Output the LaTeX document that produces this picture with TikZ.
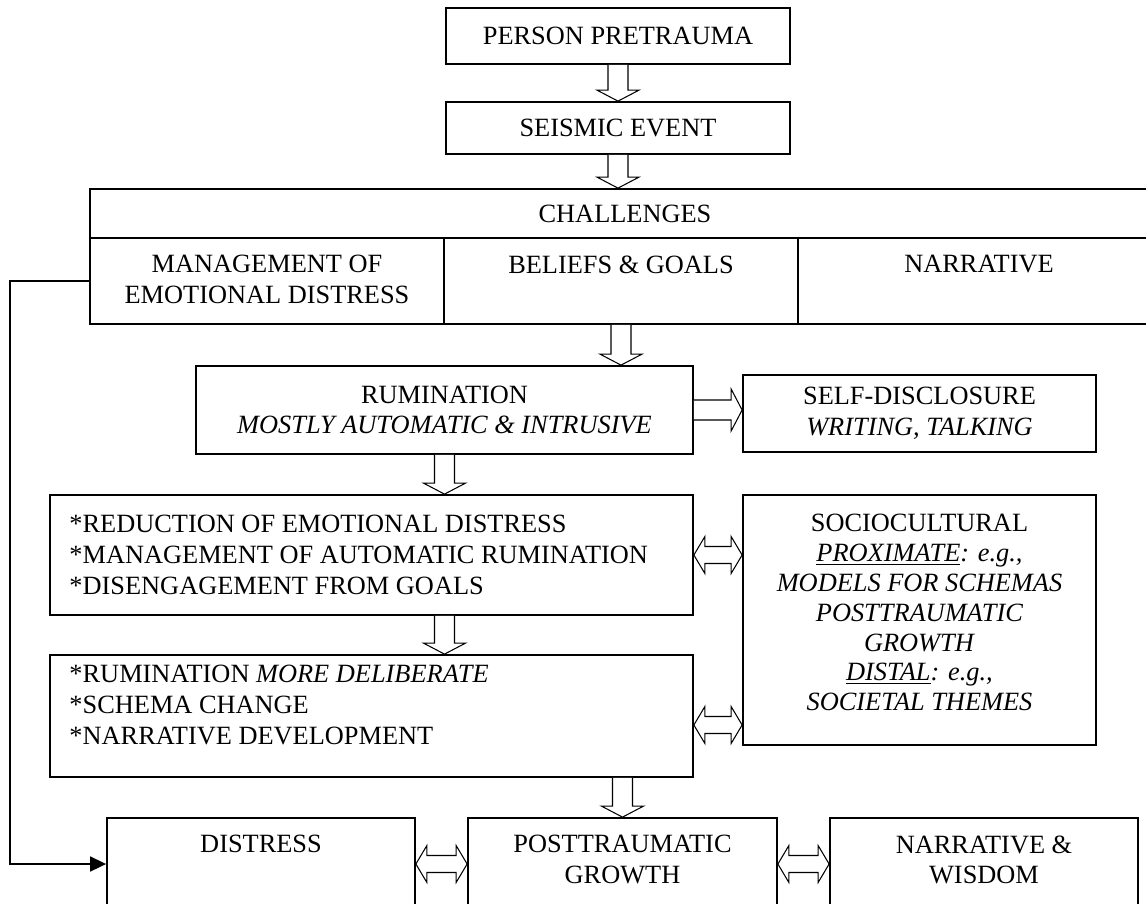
\documentclass[tikz,border=0pt]{standalone}
\usepackage{fontspec}
\setmainfont{Liberation Serif}
\usetikzlibrary{arrows.meta,calc}

\newcommand{\shaftw}{0.2cm}
\newcommand{\headw}{0.42cm}
\newcommand{\headl}{0.22cm}
\newcommand{\hollowdown}[2]{\draw[hollow] let \p1=(#1), \p2=(#2) in
  (\x1-\shaftw,\y1) -- (\x1-\shaftw,\y2+\headl) -- (\x1-\headw,\y2+\headl) -- (\x1,\y2)
  -- (\x1+\headw,\y2+\headl) -- (\x1+\shaftw,\y2+\headl) -- (\x1+\shaftw,\y1);}
\newcommand{\hollowright}[2]{\draw[hollow] let \p1=(#1), \p2=(#2) in
  (\x1,\y1+\shaftw) -- (\x2-\headl,\y1+\shaftw) -- (\x2-\headl,\y1+\headw) -- (\x2,\y1)
  -- (\x2-\headl,\y1-\headw) -- (\x2-\headl,\y1-\shaftw) -- (\x1,\y1-\shaftw);}
\newcommand{\hollowboth}[2]{\draw[hollow] let \p1=(#1), \p2=(#2) in
  (\x1,\y1) -- (\x1+\headl,\y1+0.37cm) -- (\x1+\headl,\y1+0.17cm) -- (\x2-\headl,\y1+0.17cm)
  -- (\x2-\headl,\y1+0.37cm) -- (\x2,\y1) -- (\x2-\headl,\y1-0.37cm) -- (\x2-\headl,\y1-0.17cm)
  -- (\x1+\headl,\y1-0.17cm) -- (\x1+\headl,\y1-0.37cm) -- cycle;}

\begin{document}
\begin{tikzpicture}[x=0.02cm,y=-0.02cm,
  txt/.style={inner sep=0pt,font=\fontsize{15}{17.5}\selectfont},
  box/.style={draw,line width=1pt,align=center,txt},
  bw/.style={minimum width=#1*0.02cm},
  bh/.style={minimum height=#1*0.02cm},
  toptext/.style={txt,anchor=north,yshift=-0.36cm,align=center},
  hollow/.style={draw,fill=white,line width=0.6pt}]
   \useasboundingbox (0,0) rectangle (1146,903);
   \node[box,bw=344,bh=56] (pre) at (618,36) {PERSON PRETRAUMA};
   \node[box,bw=344,bh=52] (seis) at (618,128) {SEISMIC EVENT};
   \node[box,bw=1070,bh=49] (chal) at (625,213.5) {CHALLENGES};
   \node[box,bw=354,bh=86,label={[toptext]north:MANAGEMENT OF\\EMOTIONAL DISTRESS}] (mgmt) at (267,281) {};
   \node[box,bw=354,bh=86,label={[toptext]north:BELIEFS \& GOALS}] (belief) at (621,281) {};
   \node[box,bw=362,bh=86,label={[toptext]north:NARRATIVE}] (narr) at (979,281) {};
   \node[box,bw=497,bh=88] (rum) at (444.5,410) {RUMINATION\\\textit{MOSTLY AUTOMATIC \& INTRUSIVE}};
   \node[box,bw=353,bh=77] (self) at (919.5,413.5) {SELF-DISCLOSURE\\\textit{WRITING, TALKING}};
   \node[box,bw=643,bh=120,label={[txt,anchor=west,align=left,xshift=0.4cm]west:*REDUCTION OF EMOTIONAL DISTRESS\\*MANAGEMENT OF AUTOMATIC RUMINATION\\*DISENGAGEMENT FROM GOALS}] (red) at (371.5,555) {};
   \node[box,bw=353,bh=250,font=\fontsize{15}{17}\selectfont,text depth=0.3cm] (socio) at (919.5,620) {SOCIOCULTURAL\\\underline{\textit{PROXIMATE}}\textit{: e.g.,}\\\textit{MODELS FOR SCHEMAS}\\\textit{POSTTRAUMATIC}\\\textit{GROWTH}\\\underline{\textit{DISTAL}}\textit{: e.g.,}\\\textit{SOCIETAL THEMES}};
   \node[box,bw=643,bh=122,label={[txt,anchor=north west,align=left,xshift=0.4cm,yshift=-0.22cm]north west:*RUMINATION \textit{MORE DELIBERATE}\\*SCHEMA CHANGE\\*NARRATIVE DEVELOPMENT}] (delib) at (371.5,716) {};
   \node[box,bw=308,bh=92,label={[toptext]north:DISTRESS}] (distr) at (261,864) {};
   \node[box,bw=309,bh=92,label={[toptext]north:POSTTRAUMATIC\\GROWTH}] (growth) at (622.5,864) {};
   \node[box,bw=308,bh=92,label={[toptext]north:NARRATIVE \&\\WISDOM}] (wisdom) at (984,864) {};

   \hollowdown{pre.south}{seis.north}
   \hollowdown{seis.south}{chal.north}
   \hollowdown{belief.south}{rum.north}
   \hollowright{rum.east}{self.west}
   \hollowdown{rum.south}{red.north}
   \hollowboth{red.east}{socio.west}
   \hollowdown{rum.south |- red.south}{delib.north}
   \hollowboth{[yshift=-0.18cm]delib.east}{socio.west}
   \hollowdown{growth.north |- delib.south}{growth.north}
   \hollowboth{distr.east}{growth.west}
   \hollowboth{growth.east}{wisdom.west}
   \draw[line width=0.9pt,-{Triangle[length=0.32cm,width=0.3cm]}] (mgmt.west) -- ++(-79,0) |- (distr.west);
\end{tikzpicture}
\end{document}
